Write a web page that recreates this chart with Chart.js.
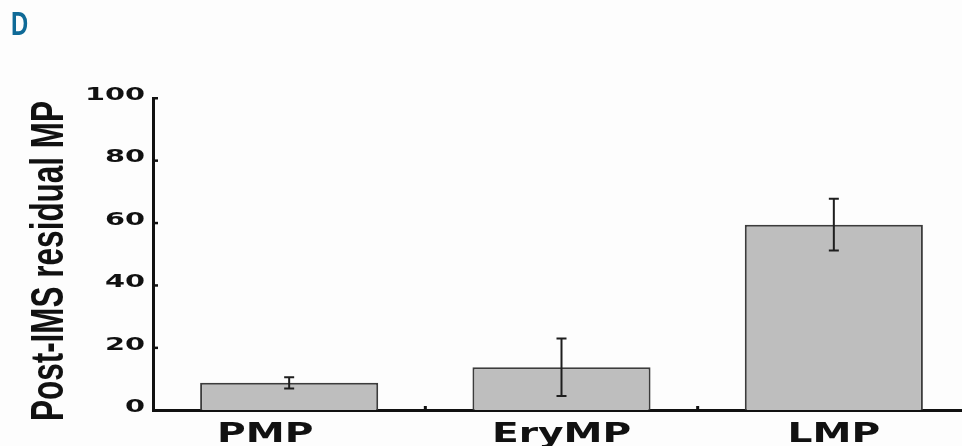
<!DOCTYPE html>
<html>
<head>
<meta charset="utf-8">
<script src="https://cdn.jsdelivr.net/npm/chart.js@4.4.1/dist/chart.umd.min.js"></script>
<style>
  html, body { margin: 0; padding: 0; background: #fdfdfd; overflow: hidden; }
  #wrap { width: 980px; height: 446px; }
</style>
</head>
<body>
<div id="wrap"><canvas id="c" width="980" height="446"></canvas></div>
<script>
// Residual microparticles after IMS, by microparticle type (mean ± SD)
const categories = ['PMP', 'EryMP', 'LMP'];
const residualMean = [8.7, 13.7, 59.4];
const residualSD = [1.8, 9.2, 8.3];
const yTicks = [0, 20, 40, 60, 80, 100];
const yTitle = 'Post-IMS residual MP';
const panelLetter = 'D';

// Draws stretched/condensed text the way the figure's typography looks
function stretchedText(ctx, text, x, y, sx, font, color, align, rot) {
  ctx.save();
  ctx.translate(x, y);
  if (rot) ctx.rotate(rot);
  ctx.scale(sx, 1);
  ctx.font = font;
  ctx.fillStyle = color;
  ctx.textAlign = align;
  ctx.textBaseline = 'alphabetic';
  ctx.fillText(text, 0, 0);
  ctx.restore();
}

const decorations = {
  id: 'decorations',
  afterDatasetsDraw(chart) {
    const ctx = chart.ctx;
    const xs = chart.scales.x;
    const ys = chart.scales.y;

    // error bars
    ctx.save();
    ctx.strokeStyle = '#1e1e1e';
    ctx.lineWidth = 2;
    residualMean.forEach((m, i) => {
      const cx = xs.getPixelForValue(i);
      const top = ys.getPixelForValue(m + residualSD[i]);
      const bot = ys.getPixelForValue(m - residualSD[i]);
      ctx.beginPath();
      ctx.moveTo(cx, top); ctx.lineTo(cx, bot);
      ctx.moveTo(cx - 5, top); ctx.lineTo(cx + 5, top);
      ctx.moveTo(cx - 5, bot); ctx.lineTo(cx + 5, bot);
      ctx.stroke();
    });
    ctx.restore();
  },
  afterDraw(chart) {
    const ctx = chart.ctx;
    const xs = chart.scales.x;
    const ys = chart.scales.y;
    const axisY = ys.getPixelForValue(0);
    const axisX = chart.chartArea.left;

    // y tick labels and small inward tick marks
    yTicks.forEach(v => {
      const py = ys.getPixelForValue(v);
      stretchedText(ctx, String(v), axisX - 8, py + 2, 1.6,
        'bold 18px "DejaVu Sans", sans-serif', '#111', 'right');
      ctx.fillStyle = '#111';
      ctx.fillRect(axisX, py - 1, 5, 2.5);
    });

    // category boundary ticks on the x axis
    ctx.fillStyle = '#111';
    for (let i = 0; i < categories.length - 1; i++) {
      const bx = (xs.getPixelForValue(i) + xs.getPixelForValue(i + 1)) / 2;
      ctx.fillRect(bx - 1.5, axisY - 4, 3, 4);
    }

    // category labels
    const shift = [-24, 0, 0];
    categories.forEach((c, i) => {
      stretchedText(ctx, c, xs.getPixelForValue(i) + shift[i], 442, 1.45,
        'bold 27px "DejaVu Sans", sans-serif', '#111', 'center');
    });

    // rotated y axis title, condensed
    stretchedText(ctx, yTitle, 63, 261, 0.67,
      'bold 47px "Liberation Sans", Arial, sans-serif', '#111', 'center', -Math.PI / 2);

    // panel letter
    stretchedText(ctx, panelLetter, 11, 35, 0.72,
      'bold 33px "Liberation Sans", Arial, sans-serif', '#0f6a97', 'left');
  }
};

new Chart(document.getElementById('c'), {
  type: 'bar',
  data: {
    labels: categories,
    datasets: [{
      data: residualMean,
      backgroundColor: '#bebebe',
      borderColor: '#3c3c3c',
      borderWidth: 2,
      categoryPercentage: 1.0,
      barPercentage: 0.654
    }]
  },
  options: {
    responsive: false,
    animation: false,
    layout: { padding: { left: 145, right: 10, top: 98, bottom: 28 } },
    plugins: { legend: { display: false }, tooltip: { enabled: false } },
    scales: {
      x: {
        grid: { display: false },
        border: { display: true, color: '#111', width: 3 },
        ticks: { display: false }
      },
      y: {
        min: 0, max: 100,
        afterBuildTicks: s => { s.ticks = yTicks.map(v => ({ value: v })); },
        grid: { display: false },
        border: { display: true, color: '#111', width: 3 },
        ticks: { display: false }
      }
    }
  },
  plugins: [decorations]
});
</script>
</body>
</html>
